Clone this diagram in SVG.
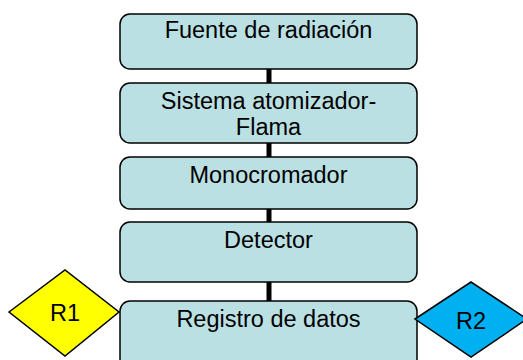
<svg xmlns="http://www.w3.org/2000/svg" width="523" height="360" viewBox="0 0 523 360">
<style>
.box{fill:#BBE0E3;stroke:#000;stroke-width:1.5}
.t{font-family:"Liberation Sans",Arial,sans-serif;font-size:23.5px;fill:#000;text-anchor:middle}
.c{stroke:#000;stroke-width:5;fill:none}
.d{stroke:#000;stroke-width:1.5}
</style>
<rect width="523" height="360" fill="#fff"/>
<g id="connectors">
<line class="c" x1="269" y1="69" x2="269" y2="83"/>
<line class="c" x1="269" y1="143" x2="269" y2="157"/>
<line class="c" x1="269" y1="209" x2="269" y2="222"/>
<line class="c" x1="269" y1="282" x2="269" y2="301"/>
</g>
<g id="n1">
<rect class="box" x="120" y="14" width="297" height="55" rx="10"/>
<text class="t" x="268.5" y="38">Fuente de radiación</text>
</g>
<g id="n2">
<rect class="box" x="120" y="83" width="297" height="60" rx="10"/>
<text class="t" x="268.5" y="109">Sistema atomizador-</text>
<text class="t" x="268.5" y="135">Flama</text>
</g>
<g id="n3">
<rect class="box" x="120" y="157" width="297" height="52" rx="10"/>
<text class="t" x="268.5" y="183">Monocromador</text>
</g>
<g id="n4">
<rect class="box" x="120" y="222" width="297" height="60" rx="10"/>
<text class="t" x="268.5" y="248">Detector</text>
</g>
<g id="n5">
<rect class="box" x="120" y="301" width="297" height="70" rx="10"/>
<text class="t" x="268.5" y="327">Registro de datos</text>
</g>
<g id="r1">
<polygon class="d" points="9,312 65,270 119,312 65,356" fill="#FFFF00"/>
<text class="t" x="65" y="321">R1</text>
</g>
<g id="r2">
<polygon class="d" points="415,319 471,282 527,319 471,357" fill="#00B0F0"/>
<text class="t" x="471" y="329">R2</text>
</g>
</svg>
